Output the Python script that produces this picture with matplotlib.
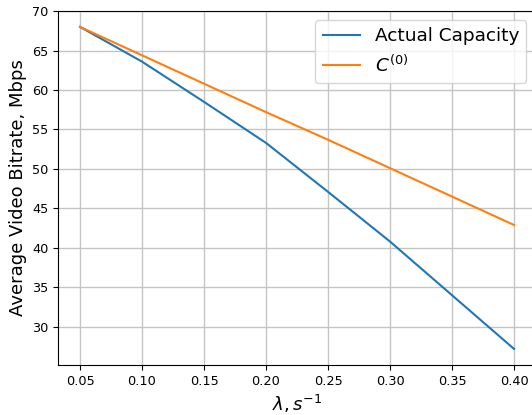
import numpy as np
import matplotlib
matplotlib.use('Agg')
import matplotlib.pyplot as plt

# data
lam = [0.05, 0.10, 0.15, 0.20, 0.25, 0.30, 0.35, 0.40]
actual_capacity = [68.0, 63.6, 58.5, 53.3, 47.1, 40.8, 34.0, 27.2]
c0 = [68.0, 64.4, 60.8, 57.2, 53.7, 50.1, 46.5, 42.9]

# plot
fig = plt.figure(figsize=(5.32, 4.15), dpi=100)
ax = fig.add_axes([0.1096, 0.1205, 0.8974, 0.8535])

ax.plot(lam, actual_capacity, color='#1f77b4', label='Actual Capacity', linewidth=1.5)
ax.plot(lam, c0, color='#ff7f0e', label='$C^{(0)}$', linewidth=1.5)

ax.set_xticks(np.arange(0.05, 0.401, 0.05))
ax.set_yticks(np.arange(30, 71, 5))
ax.tick_params(labelsize=9.3)
ax.grid(True, color='#c4c4c4', linewidth=1.0)
ax.set_xlabel(r'$\lambda, s^{-1}$', fontsize=13)
ax.set_ylabel('Average Video Bitrate, Mbps', fontsize=13)
ax.legend(loc='upper right', fontsize=13.3)

fig.savefig('out.png', dpi=100)
